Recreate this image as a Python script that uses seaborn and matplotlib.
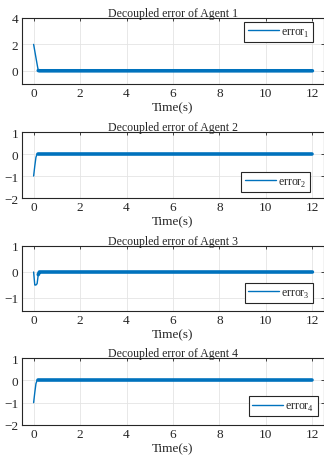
import numpy as np
import pandas as pd
import seaborn as sns
import matplotlib.pyplot as plt

# time samples and decoupled error of each agent
t = [0.0, 0.05, 0.1, 0.15, 0.2, 0.25, 0.3, 1.0, 4.0, 8.0, 12.0]
err1 = [2.0, 1.5, 1.0, 0.5, 0.02, 0.0, 0.0, 0.0, 0.0, 0.0, 0.0]
err2 = [-1.0, -0.55, -0.15, 0.0, 0.0, 0.0, 0.0, 0.0, 0.0, 0.0, 0.0]
err3 = [0.0, -0.5, -0.5, -0.45, -0.1, 0.0, 0.0, 0.0, 0.0, 0.0, 0.0]
err4 = [-1.0, -0.55, -0.15, 0.0, 0.0, 0.0, 0.0, 0.0, 0.0, 0.0, 0.0]
errors = [err1, err2, err3, err4]

ylims = [(-1, 4), (-2, 1), (-1.5, 1), (-2, 1)]
yticks = [[0, 2, 4], [-2, -1, 0, 1], [-1, 0, 1], [-2, -1, 0, 1]]
xticks = [0, 2, 4, 6, 8, 10, 12]

# axes boxes in pixels (top, bottom) and legend anchors
ax_rows = [(19, 85), (133, 199), (247, 312), (359, 426)]
leg_loc = ['upper right', 'lower right', 'lower right', 'lower right']
leg_anchor = [(0.964, 0.94), (0.954, 0.09), (0.965, 0.12), (0.98, 0.13)]

blue = '#0072BD'
W, H = 324, 460

sns.set_style('white')
plt.rcParams['font.family'] = ['Liberation Serif', 'DejaVu Serif']
plt.rcParams['mathtext.fontset'] = 'custom'
plt.rcParams['mathtext.rm'] = 'Liberation Serif'
plt.rcParams['font.size'] = 9

fig = plt.figure(figsize=(W / 100, H / 100), dpi=100)

for i in range(4):
	top, bot = ax_rows[i]
	ax = fig.add_axes([22 / W, 1 - bot / H, 1 - 22 / W, (bot - top) / H])
	df = pd.DataFrame({'t': t, 'e': errors[i]})
	steady = df[df['t'] >= 0.2]
	sns.lineplot(ax=ax, x='t', y='e', data=df, color=blue, linewidth=1.0,
				 label='error$_{%d}$' % (i + 1))
	sns.lineplot(ax=ax, x='t', y='e', data=steady, color=blue, linewidth=2.6)
	ax.set_xlim(-0.5, 12.5)
	ax.set_ylim(*ylims[i])
	ax.set_xticks(xticks)
	ax.set_yticks(yticks[i])
	ax.set_title('Decoupled error of Agent %d' % (i + 1), fontsize=8.5, pad=1.5)
	ax.set_xlabel('Time(s)', fontsize=9.5, labelpad=1.5)
	ax.set_ylabel('')
	ax.grid(True, color='#e4e4e4', linewidth=0.6)
	ax.set_axisbelow(True)
	ax.tick_params(direction='in', length=2.5, width=0.6, top=True, right=True,
				   labelsize=9.5, pad=2.5, colors='#262626', labelcolor='#262626')
	for sp in ax.spines.values():
		sp.set_color('#262626')
		sp.set_linewidth(0.8)
	leg = ax.legend(loc=leg_loc[i], bbox_to_anchor=leg_anchor[i], fontsize=8.5,
					fancybox=False, framealpha=1, edgecolor='#262626',
					handlelength=2.6, handletextpad=0.2, borderpad=0.3,
					borderaxespad=0)
	leg.get_frame().set_linewidth(0.8)
	leg.legend_handles[0].set_linewidth(1.0)

fig.savefig('out.png', dpi=100)
